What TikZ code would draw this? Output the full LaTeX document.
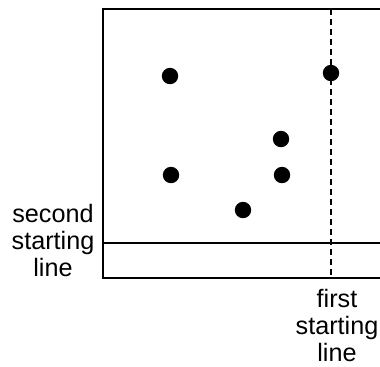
\documentclass[tikz,border=0pt]{standalone}
\usepackage{fontspec}
\setmainfont{Liberation Sans}
\begin{document}
\begin{tikzpicture}[x=0.5pt,y=-0.5pt,
  dot/.style={circle,fill=black,inner sep=0pt,minimum size=8.2pt},
  frame/.style={line width=1pt},
  lbl/.style={align=center,font=\fontsize{12.6pt}{13.3pt}\selectfont,inner sep=0pt,anchor=base}]
\useasboundingbox (0,0) rectangle (380,366);
\coordinate (tl) at (103,9);
\coordinate (bl) at (103,278);
\coordinate (tr) at (382,9);
\coordinate (br) at (382,278);
\coordinate (hl) at (103,243);
\coordinate (hr) at (382,243);
\coordinate (vt) at (331,9);
\coordinate (vb) at (331,278);
\draw[frame] (tr) -- (tl) -- (bl) -- (br);
\draw[line width=0.8pt] (hl) -- (hr);
\draw[line width=0.9pt,dash pattern=on 3pt off 2pt] (vt) -- (vb);
\node[dot] (d1) at (170,76) {};
\node[dot] (d2) at (331,73) {};
\node[dot] (d3) at (281,139) {};
\node[dot] (d4) at (171,175) {};
\node[dot] (d5) at (282,175) {};
\node[dot] (d6) at (243,210) {};
\node[lbl] (second) at (53,276) {second\\starting\\line};
\node[lbl] (first) at (337,361) {first\\starting\\line};
\end{tikzpicture}
\end{document}
